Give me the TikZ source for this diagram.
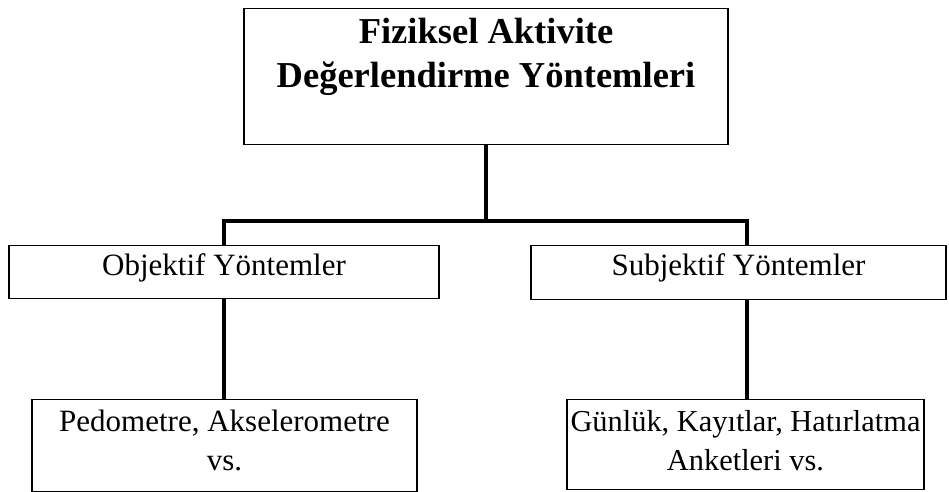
\documentclass[tikz,border=0pt]{standalone}
\usepackage{fontspec}
\setmainfont{Liberation Serif}
\usepackage{tikz}
\usetikzlibrary{positioning, calc}

\begin{document}
\begin{tikzpicture}[
  x=1pt, y=-1pt,
  box/.style={draw, line width=1.4pt, inner sep=0pt, align=center, font=\fontsize{31}{39}\selectfont},
  conn/.style={line width=4pt}
]
  \useasboundingbox (0,0) rectangle (949,491);

  % Main heading
  \node[box, anchor=north, minimum width=484pt, text height=78.7pt, text depth=57.3pt,
        font=\bfseries\fontsize{36.5}{43.5}\selectfont] (main) at (486,8)
    {Fiziksel Aktivite\\Değerlendirme Yöntemleri};

  % Two method groups
  \node[box, anchor=north, minimum width=430pt, text height=29.5pt, text depth=23.5pt] (obj) at (224,245)
    {Objektif Yöntemler};
  \node[box, anchor=north, minimum width=415pt, text height=30pt, text depth=24pt] (sub) at (738.5,245)
    {Subjektif Yöntemler};

  % Examples
  \node[box, anchor=north, minimum width=385pt, text height=71pt, text depth=21pt] (objex) at (224.5,399)
    {Pedometre, Akselerometre\\vs.};
  \node[box, anchor=north, minimum width=357pt, text height=71pt, text depth=19pt,
        font=\fontsize{30.4}{39}\selectfont] (subex) at (745.5,399)
    {Günlük, Kayıtlar, Hatırlatma\\Anketleri vs.};

  % Tree connectors
  \coordinate (busL) at (224,221);
  \coordinate (busR) at (747,221);
  \draw[conn] (main.south) -- (main.south |- busL);
  \draw[conn, line cap=rect] (busL) -- (busR);
  \draw[conn] (busL) -- (busL |- obj.north);
  \draw[conn] (busR) -- (busR |- sub.north);
  \draw[conn] (busL |- obj.south) -- (busL |- objex.north);
  \draw[conn] (busR |- sub.south) -- (busR |- subex.north);

\end{tikzpicture}
\end{document}
